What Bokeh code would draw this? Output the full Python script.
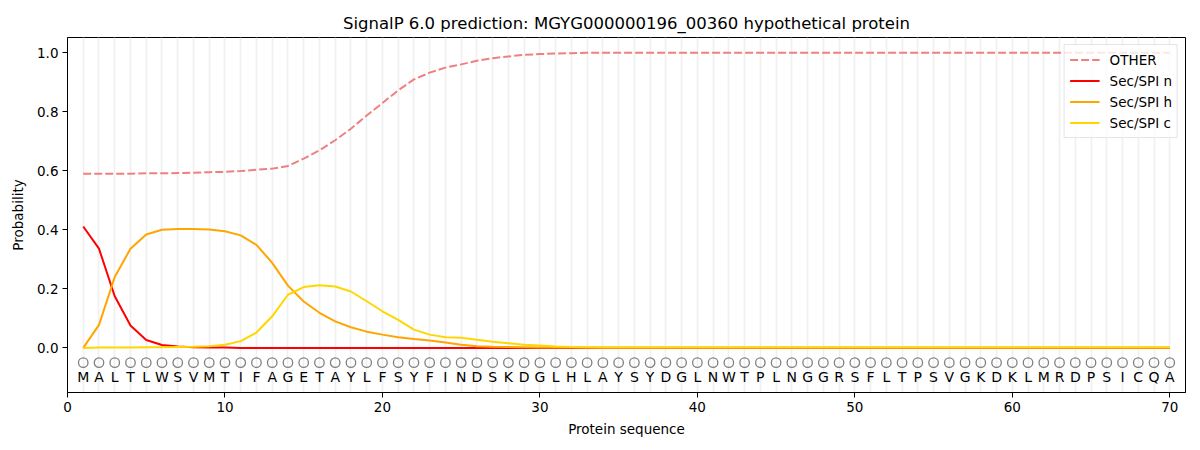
from bokeh.plotting import figure
from bokeh.models import ColumnDataSource, Range1d, FixedTicker, PrintfTickFormatter, Legend, LegendItem
from bokeh.core.properties import value
from bokeh.embed import file_html
from bokeh.resources import INLINE

residues = list(range(1, 71))
sequence = list("MALTLWSVMTIFAGETAYLFSYFINDSKDGLHLAYSYDGLNWTPLNGGRSFLTPSVGKDKLMRDPSICQA")

other = [0.590, 0.590, 0.590, 0.590, 0.591, 0.591, 0.592, 0.593, 0.595, 0.596,
         0.599, 0.603, 0.607, 0.616, 0.641, 0.669, 0.703, 0.742, 0.787, 0.829,
         0.872, 0.909, 0.932, 0.949, 0.960, 0.972, 0.981, 0.987, 0.992, 0.995,
         0.997, 0.998, 0.999] + [0.999] * 37

sec_n = [0.411, 0.336, 0.175, 0.076, 0.027, 0.010, 0.0045, 0.002, 0.001, 0.001] + [0.0] * 60

sec_h = [0.0, 0.078, 0.240, 0.336, 0.384, 0.400, 0.403, 0.403, 0.401, 0.395,
         0.381, 0.349, 0.288, 0.211, 0.157, 0.119, 0.090, 0.070, 0.055, 0.045,
         0.036, 0.030, 0.025, 0.018, 0.011, 0.006, 0.004, 0.003, 0.002, 0.001] + [0.001] * 40

sec_c = [0.0, 0.001, 0.001, 0.001, 0.002, 0.002, 0.003, 0.004, 0.006, 0.011,
         0.023, 0.052, 0.107, 0.180, 0.206, 0.212, 0.208, 0.191, 0.158, 0.124,
         0.095, 0.062, 0.045, 0.036, 0.034, 0.028, 0.021, 0.016, 0.011, 0.008,
         0.005, 0.003, 0.002] + [0.001] * 37

x_ticks = [0, 10, 20, 30, 40, 50, 60, 70]
y_ticks = [0.0, 0.2, 0.4, 0.6, 0.8, 1.0]

FONT = "DejaVu Sans"

src = ColumnDataSource(dict(x=residues, other=other, n=sec_n, h=sec_h, c=sec_c,
                            aa=sequence,
                            yc=[-0.05] * len(residues), yt=[-0.1] * len(residues)))

p = figure(width=1192, height=442, output_backend="svg", toolbar_location=None,
           x_range=Range1d(0, 71), y_range=Range1d(-0.151, 1.051),
           title="SignalP 6.0 prediction: MGYG000000196_00360 hypothetical protein",
           min_border_left=67, min_border_right=7, min_border_top=37, min_border_bottom=50)

p.title.align = "center"
p.title.text_font = FONT
p.title.text_font_size = "16.5px"
p.title.text_font_style = "normal"
p.title.text_color = "black"

p.outline_line_color = "black"
p.outline_line_width = 1
p.outline_line_alpha = 1
p.background_fill_color = "white"
p.border_fill_color = "white"

p.ygrid.visible = False
p.xgrid.ticker = FixedTicker(ticks=residues)
p.xgrid.grid_line_color = "#f0f0f0"
p.xgrid.grid_line_width = 1.7

p.xaxis.ticker = FixedTicker(ticks=x_ticks)
p.yaxis.ticker = FixedTicker(ticks=y_ticks)
p.yaxis.formatter = PrintfTickFormatter(format="%.1f")
for ax in (p.xaxis, p.yaxis):
    ax.major_tick_in = 0
    ax.major_tick_out = 5
    ax.minor_tick_in = 0
    ax.minor_tick_out = 0
    ax.major_tick_line_color = "black"
    ax.axis_line_color = "black"
    ax.major_label_text_font = FONT
    ax.major_label_text_font_size = "13.5px"
    ax.major_label_text_color = "black"
    ax.axis_label_text_font = FONT
    ax.axis_label_text_font_size = "13.5px"
    ax.axis_label_text_font_style = "normal"
    ax.axis_label_text_color = "black"
    ax.major_label_standoff = 4
p.xaxis.axis_label = "Protein sequence"
p.yaxis.axis_label = "Probability"
p.xaxis.axis_label_standoff = 6
p.yaxis.axis_label_standoff = 8

r_other = p.line("x", "other", source=src, line_color="#f08080", line_width=2, line_dash="8 3")
r_n = p.line("x", "n", source=src, line_color="red", line_width=2)
r_h = p.line("x", "h", source=src, line_color="orange", line_width=2)
r_c = p.line("x", "c", source=src, line_color="gold", line_width=2)

p.scatter("x", "yc", source=src, marker="circle", size=9.5, fill_color=None,
          line_color="gray", line_width=1.3)
p.text("x", "yt", text="aa", source=src, text_align="center", text_baseline="middle",
       text_font=value(FONT), text_font_size="14px", text_color="black")

legend = Legend(items=[LegendItem(label="OTHER", renderers=[r_other]),
                       LegendItem(label="Sec/SPI n", renderers=[r_n]),
                       LegendItem(label="Sec/SPI h", renderers=[r_h]),
                       LegendItem(label="Sec/SPI c", renderers=[r_c])],
                location="top_right")
legend.label_text_font = FONT
legend.label_text_font_size = "13.5px"
legend.label_text_color = "black"
legend.glyph_width = 30
legend.glyph_height = 19
legend.label_height = 19
legend.spacing = 2
legend.padding = 5
legend.margin = 7
legend.label_standoff = 10
legend.border_line_color = "#cccccc"
legend.border_line_width = 1
legend.background_fill_color = "white"
legend.background_fill_alpha = 0.8
p.add_layout(legend)

open("out.html", "w").write(file_html(p, INLINE))
